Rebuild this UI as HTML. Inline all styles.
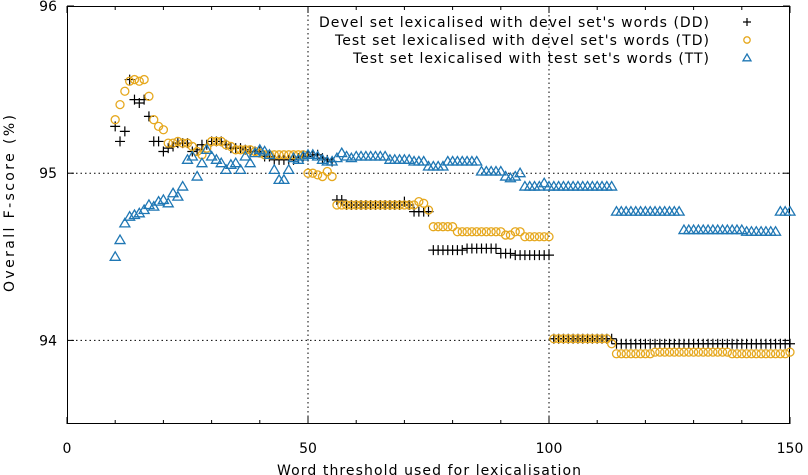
<!DOCTYPE html>
<html><head><meta charset="utf-8"><style>
body{margin:0;background:#fff}
svg{display:block;font-family:"DejaVu Sans","Liberation Sans",sans-serif}
</style></head><body>
<svg id="c" width="808" height="475" xmlns="http://www.w3.org/2000/svg"></svg>
<script>
const xStart = 10;
const ddValues = [95.28,95.19,95.25,95.56,95.44,95.42,95.44,95.34,95.19,95.19,95.13,95.15,95.16,95.18,95.18,95.18,95.13,95.14,95.17,95.17,95.19,95.19,95.19,95.17,95.15,95.15,95.15,95.14,95.13,95.13,95.13,95.10,95.10,95.08,95.08,95.08,95.08,95.08,95.09,95.10,95.10,95.11,95.11,95.09,95.08,95.07,94.84,94.84,94.81,94.81,94.81,94.81,94.81,94.81,94.81,94.81,94.81,94.81,94.81,94.81,94.83,94.81,94.77,94.77,94.77,94.77,94.54,94.54,94.54,94.54,94.54,94.54,94.54,94.55,94.55,94.55,94.55,94.55,94.55,94.55,94.52,94.52,94.52,94.51,94.51,94.51,94.51,94.51,94.51,94.51,94.51,94.01,94.01,94.01,94.01,94.01,94.01,94.01,94.01,94.01,94.01,94.01,94.01,94.01,93.98,93.98,93.98,93.98,93.98,93.98,93.98,93.98,93.98,93.98,93.98,93.98,93.98,93.98,93.98,93.98,93.98,93.98,93.98,93.98,93.98,93.98,93.98,93.98,93.98,93.98,93.98,93.98,93.98,93.98,93.98,93.98,93.98,93.98,93.98,93.98,93.98];
const tdValues = [95.32,95.41,95.49,95.55,95.56,95.55,95.56,95.46,95.32,95.28,95.26,95.18,95.18,95.19,95.18,95.18,95.16,95.13,95.11,95.15,95.19,95.19,95.19,95.17,95.16,95.14,95.14,95.14,95.14,95.13,95.12,95.11,95.11,95.11,95.11,95.11,95.11,95.11,95.11,95.11,95.00,95.00,94.99,94.98,95.01,94.98,94.81,94.81,94.81,94.81,94.81,94.81,94.81,94.81,94.81,94.81,94.81,94.81,94.81,94.81,94.81,94.81,94.81,94.83,94.82,94.78,94.68,94.68,94.68,94.68,94.68,94.65,94.65,94.65,94.65,94.65,94.65,94.65,94.65,94.65,94.65,94.63,94.63,94.65,94.65,94.62,94.62,94.62,94.62,94.62,94.62,94.01,94.01,94.01,94.01,94.01,94.01,94.01,94.01,94.01,94.01,94.01,94.01,93.98,93.92,93.92,93.92,93.92,93.92,93.92,93.92,93.92,93.93,93.93,93.93,93.93,93.93,93.93,93.93,93.93,93.93,93.93,93.93,93.93,93.93,93.93,93.93,93.93,93.92,93.92,93.92,93.92,93.92,93.92,93.92,93.92,93.92,93.92,93.92,93.92,93.93];
const ttValues = [94.50,94.60,94.70,94.74,94.75,94.76,94.78,94.81,94.80,94.83,94.84,94.82,94.88,94.86,94.92,95.08,95.10,94.98,95.06,95.14,95.10,95.08,95.06,95.02,95.05,95.06,95.02,95.10,95.06,95.12,95.14,95.13,95.11,95.02,94.96,94.96,95.02,95.09,95.08,95.10,95.11,95.11,95.10,95.08,95.07,95.07,95.09,95.12,95.10,95.09,95.10,95.10,95.10,95.10,95.10,95.10,95.10,95.08,95.08,95.08,95.08,95.08,95.07,95.07,95.07,95.04,95.04,95.04,95.04,95.07,95.07,95.07,95.07,95.07,95.07,95.07,95.01,95.01,95.01,95.01,95.01,94.98,94.97,94.98,95.00,94.92,94.92,94.92,94.92,94.94,94.92,94.92,94.92,94.92,94.92,94.92,94.92,94.92,94.92,94.92,94.92,94.92,94.92,94.92,94.77,94.77,94.77,94.77,94.77,94.77,94.77,94.77,94.77,94.77,94.77,94.77,94.77,94.77,94.66,94.66,94.66,94.66,94.66,94.66,94.66,94.66,94.66,94.66,94.66,94.66,94.66,94.65,94.65,94.65,94.65,94.65,94.65,94.65,94.77,94.77,94.77];
const xTicks = [0,50,100,150];
const xMinorTicks = [10,20,30,40,60,70,80,90,110,120,130,140];
const yTicks = [94,95,96];
const legendLabels = ["Devel set lexicalised with devel set's words (DD)","Test set lexicalised with devel set's words (TD)","Test set lexicalised with test set's words (TT)"];

const L=67,R=790,T=6,B=424;
const X=v=>L+(v-0)/150*(R-L);
const Y=v=>T+(96-v)/(96-93.5)*(B-T);
const NS="http://www.w3.org/2000/svg";
const svg=document.getElementById('c');
function mk(tag,attrs,parent){const e=document.createElementNS(NS,tag);for(const k in attrs)e.setAttribute(k,attrs[k]);(parent||svg).appendChild(e);return e;}

const grid=mk('g',{});


[50,100].forEach(v=>mk('line',{x1:X(v),x2:X(v),y1:T,y2:B,stroke:'#000','stroke-width':1,'stroke-dasharray':'1.5,3'},grid));
[94,95].forEach(v=>mk('line',{x1:L,x2:R,y1:Y(v),y2:Y(v),stroke:'#000','stroke-width':1,'stroke-dasharray':'1.5,3'},grid));

xMinorTicks.forEach(v=>{
  mk('line',{x1:X(v),x2:X(v),y1:B,y2:B-4,stroke:'#000'});
  mk('line',{x1:X(v),x2:X(v),y1:T,y2:T+4,stroke:'#000'});
});
xTicks.forEach(v=>{
  mk('line',{x1:X(v),x2:X(v),y1:B,y2:B-7,stroke:'#000'});
  mk('line',{x1:X(v),x2:X(v),y1:T,y2:T+7,stroke:'#000'});
  const t=mk('text',{x:X(v),y:453,'text-anchor':'middle','font-size':14});
  t.textContent=v;
  
  
});
yTicks.forEach(v=>{
  mk('line',{x1:L,x2:L+7,y1:Y(v),y2:Y(v),stroke:'#000'});
  mk('line',{x1:R,x2:R-7,y1:Y(v),y2:Y(v),stroke:'#000'});
  const t=mk('text',{x:57,y:Y(v)+5,'text-anchor':'end','font-size':14});
  t.textContent=v;
  
  
});

const frame=mk('rect',{x:L+0.5,y:T+0.5,width:R-L-1,height:B-T-1,fill:'none',stroke:'#000'});



const xt=mk('text',{x:277,y:475,'font-size':14,textLength:304,lengthAdjust:'spacing'});
xt.textContent='Word threshold used for lexicalisation';


const yt=mk('text',{x:0,y:0,'font-size':14,textLength:177,lengthAdjust:'spacing',transform:'translate(14,292) rotate(-90)'});
yt.textContent='Overall F-score (%)';



function plus(g,x,y,s){s=s||5;mk('path',{d:`M${x-s},${y}H${x+s}M${x},${y-s}V${y+s}`,stroke:'#000','stroke-width':1.2,fill:'none'},g);}
function circ(g,x,y,s){s=s||5;mk('circle',{cx:x,cy:y,r:s*0.8,stroke:'#e6a81e','stroke-width':1.3,fill:'none'},g);}
function tri(g,x,y,s){s=s||5;mk('path',{d:`M${x},${y-s}L${x+s},${y+s*0.7}L${x-s},${y+s*0.7}Z`,stroke:'#1f77b4','stroke-width':1.3,fill:'none'},g);}

const series=[[ddValues,plus,'series-dd'],[tdValues,circ,'series-td'],[ttValues,tri,'series-tt']];
series.forEach(([vals,fn,name])=>{
  const g=mk('g',{});
  
  
  vals.forEach((v,i)=>fn(g,X(xStart+i),Y(v)));
});

const fns=[plus,circ,tri];
const legendWidths=[390,374,356];
legendLabels.forEach((lab,i)=>{
  const g=mk('g',{});
  
  
  const y=22+i*18;
  const t=mk('text',{x:709-legendWidths[i],y:y+5,'font-size':14,textLength:legendWidths[i],lengthAdjust:'spacing'},g);
  t.textContent=lab;
  fns[i](g,747,y,4);
});
</script>
</body></html>
